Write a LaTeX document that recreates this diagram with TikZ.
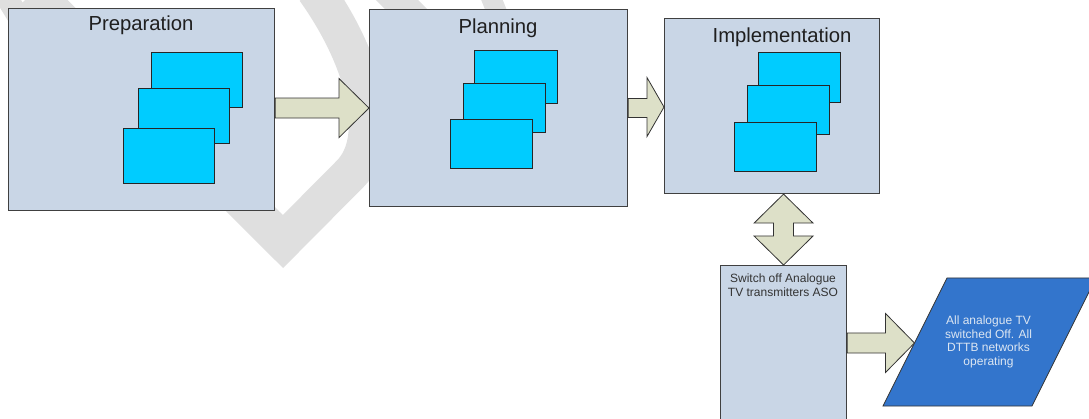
\documentclass[tikz,border=0pt]{standalone}
\usepackage{fontspec}
\setmainfont{Liberation Sans}
\usetikzlibrary{calc}
\definecolor{panel}{RGB}{201,214,230}
\definecolor{cardfill}{RGB}{0,204,255}
\definecolor{flowfill}{RGB}{221,224,200}
\definecolor{statefill}{RGB}{51,117,204}
\definecolor{statetext}{RGB}{220,230,242}
\definecolor{wmgrey}{RGB}{223,223,223}
\definecolor{edge}{RGB}{64,64,64}
\begin{document}
\begin{tikzpicture}[x=1pt,y=-1pt,
  phase/.style={draw=edge, line width=1.1pt, fill=panel, anchor=north west, inner sep=0pt},
  phasetitle/.style={anchor=base, text=black!88, font=\fontsize{20.3}{24}\selectfont, inner sep=0pt},
  cardbox/.style={draw=black!85, line width=0.9pt, fill=cardfill, anchor=north west, inner sep=0pt},
  flowarrow/.style={draw=black!80, line width=0.8pt, fill=flowfill, line join=miter},
  smalltext/.style={font=\fontsize{12}{14}\selectfont, align=center, inner sep=0pt},
  wm/.style={draw=wmgrey, line width=37.5pt, line join=miter}
]
\useasboundingbox (0,0) rectangle (1089,419);
\clip (0,0) rectangle (1089,419);

% faint background watermark strokes
\draw[wm] (33,-8) -- (283,241.5) -- (350,174) .. controls (385,139) and (365,60) .. (315,-10);
\draw[wm, line width=30pt] (385,-12) -- (425,28);
\draw[wm, line width=20pt] (488,-10) -- (500,20);
\draw[wm, line width=22pt] (2,-10) -- (18,16);

% phase panels
\node[phase, minimum width=266pt, minimum height=202pt] (prep) at (8,8) {};
\node[phase, minimum width=258pt, minimum height=197pt] (plan) at (369,9) {};
\node[phase, minimum width=215pt, minimum height=175pt] (impl) at (664,18) {};
\node[phase, minimum width=126pt, minimum height=180pt] (aso) at (720,265) {};

\node[phasetitle] (prep-t) at (141,31) {Preparation};
\node[phasetitle] (plan-t) at (498,34) {Planning};
\node[phasetitle] (impl-t) at (782,43) {Implementation};
\node[smalltext, anchor=north, text=black!80] (aso-t) at (783,274) {Switch off Analogue\\TV transmitters ASO};

% stacked cards inside each phase
\node[cardbox, minimum width=91pt, minimum height=55pt] (prep-c3) at (151,52) {};
\node[cardbox, minimum width=91pt, minimum height=55pt] (prep-c2) at (138,88) {};
\node[cardbox, minimum width=91pt, minimum height=55pt] (prep-c1) at (123,128) {};

\node[cardbox, minimum width=83pt, minimum height=53pt] (plan-c3) at (474,50) {};
\node[cardbox, minimum width=82pt, minimum height=49pt] (plan-c2) at (463,83) {};
\node[cardbox, minimum width=82pt, minimum height=49pt] (plan-c1) at (450,119) {};

\node[cardbox, minimum width=82pt, minimum height=50pt] (impl-c3) at (758,52) {};
\node[cardbox, minimum width=82pt, minimum height=49pt] (impl-c2) at (747,85) {};
\node[cardbox, minimum width=82pt, minimum height=49pt] (impl-c1) at (734,122) {};

% final state parallelogram
\draw[draw=black!80, line width=0.8pt, fill=statefill] (883,406) -- (1032,406) -- (1096,278) -- (947,278) -- cycle;
\coordinate (final-w) at (914.5,343);
\node[smalltext, text=statetext, font=\fontsize{12}{13.6}\selectfont] (final) at (988.5,342)
  {All analogue TV\\switched Off. All\\DTTB networks\\operating};

% block arrows between the phases
\draw[flowarrow] let \p1=(prep.east), \p2=(plan.west) in
  (\x1,\y2+10pt) -- (\x2-30pt,\y2+10pt) -- (\x2-30pt,\y2+29.5pt) -- (\x2,\y2)
  -- (\x2-30pt,\y2-29.5pt) -- (\x2-30pt,\y2-10pt) -- (\x1,\y2-10pt) -- cycle;
\draw[flowarrow] let \p1=(plan.east), \p2=(impl.west) in
  (\x1,\y2-2pt+9.5pt) -- (\x2-17pt,\y2-2pt+9.5pt) -- (\x2-17pt,\y2-1pt+29.5pt) -- (\x2,\y2-1pt)
  -- (\x2-17pt,\y2-1pt-29.5pt) -- (\x2-17pt,\y2-2pt-9.5pt) -- (\x1,\y2-2pt-9.5pt) -- cycle;
\draw[flowarrow] let \p1=(aso.east), \p2=(final-w) in
  (\x1,\y2+10pt) -- (\x2-29pt,\y2+10pt) -- (\x2-29pt,\y2+29.5pt) -- (\x2,\y2)
  -- (\x2-29pt,\y2-29.5pt) -- (\x2-29pt,\y2-10pt) -- (\x1,\y2-10pt) -- cycle;

% two-way arrow between implementation and switch-off
\draw[flowarrow] let \p1=(impl.south), \p2=(aso.north) in
  (\x2,\y1) -- (\x2+29.5pt,\y1-29pt) -- (\x2+10pt,\y1-29pt) -- (\x2+10pt,\y2+29pt)
  -- (\x2+29.5pt,\y2+29pt) -- (\x2,\y2) -- (\x2-29.5pt,\y2+29pt) -- (\x2-10pt,\y2+29pt)
  -- (\x2-10pt,\y1-29pt) -- (\x2-29.5pt,\y1-29pt) -- cycle;
\end{tikzpicture}
\end{document}
